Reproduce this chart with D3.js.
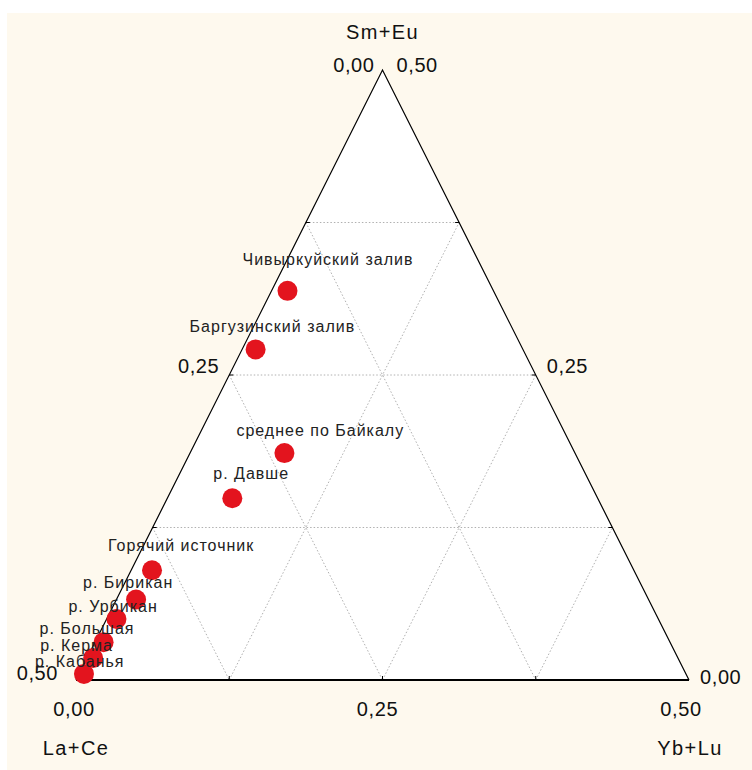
<!DOCTYPE html>
<html>
<head>
<meta charset="utf-8">
<script src="https://cdn.jsdelivr.net/npm/d3@7"></script>
<style>
html,body{margin:0;padding:0;background:#fff;}
svg{display:block;}
text{font-family:Arial,"Liberation Sans",sans-serif;}
</style>
</head>
<body>
<svg id="chart" width="752" height="770"></svg>
<script>
// ---- data ----
const axisTitles = ["La+Ce", "Sm+Eu", "Yb+Lu"];
const sampleNames = ["Чивыркуйский залив","Баргузинский залив","среднее по Байкалу","р. Давше","Горячий источник","р. Бирикан","р. Урбикан","р. Большая","р. Керма","р. Кабанья"];
const laCe = [0.168, 0.218, 0.237, 0.298, 0.393, 0.418, 0.442, 0.462, 0.477, 0.491];
const smEu = [0.319, 0.271, 0.186, 0.149, 0.090, 0.066, 0.050, 0.031, 0.018, 0.005];
const ybLu = [0.013, 0.011, 0.077, 0.053, 0.017, 0.016, 0.008, 0.007, 0.005, 0.004];
const tickValues = [0, 0.25, 0.5];
const tickLabels = ["0,00", "0,25", "0,50"];
const gridValues = [0.125, 0.25, 0.375];
// label placement (left edge / baseline offsets from the marker)
const labelDx = [-45, -66, -48, -19, -44, -53, -48, -64, -53, -49];
const labelDy = [-26, -17, -17, -19, -19, -11, -7, -8, -7, -7];

const total = 0.5;
const svg = d3.select("#chart");
svg.append("rect").attr("x",7).attr("y",13).attr("width",745).attr("height",757).attr("fill","#fef9ee");

const xScale = d3.scaleLinear().domain([0, total]).range([76, 689]);
const yScale = d3.scaleLinear().domain([0, total]).range([680, 70]);
// a = La+Ce (bottom-left), b = Sm+Eu (top), c = Yb+Lu (bottom-right)
function proj(a, b, c){ return [xScale(c + b/2), yScale(b)]; }

const L = proj(total,0,0), T = proj(0,total,0), R = proj(0,0,total);
svg.append("path").attr("d", `M${L}L${T}L${R}Z`).attr("fill","#fff");

// grid
const gridG = svg.append("g").attr("stroke","#b0b0b0").attr("stroke-width",1).attr("stroke-dasharray","1.5,2").attr("fill","none");
gridValues.forEach(v=>{
  gridG.append("line").datum([proj(total-v,v,0), proj(0,v,total-v)]);
  gridG.append("line").datum([proj(total-v,0,v), proj(0,total-v,v)]);
  gridG.append("line").datum([proj(v,total-v,0), proj(v,0,total-v)]);
});
gridG.selectAll("line").attr("x1",d=>d[0][0]).attr("y1",d=>d[0][1]).attr("x2",d=>d[1][0]).attr("y2",d=>d[1][1]);

// ticks
const tickG = svg.append("g").attr("stroke","#000").attr("stroke-width",1);
gridValues.forEach(v=>{
  const pb = proj(total-v,0,v); tickG.append("line").attr("x1",pb[0]).attr("y1",pb[1]).attr("x2",pb[0]).attr("y2",pb[1]-4);
  const pr = proj(0,v,total-v); tickG.append("line").attr("x1",pr[0]).attr("y1",pr[1]).attr("x2",pr[0]-4).attr("y2",pr[1]);
  const pl = proj(total-v,v,0); tickG.append("line").attr("x1",pl[0]).attr("y1",pl[1]).attr("x2",pl[0]+4).attr("y2",pl[1]);
});

// edges
svg.append("path").attr("d",`M${L}L${T}L${R}`).attr("fill","none").attr("stroke","#000").attr("stroke-width",1.2);
svg.append("line").attr("x1",L[0]).attr("y1",L[1]).attr("x2",R[0]).attr("y2",R[1]).attr("stroke","#000").attr("stroke-width",2.2);

// tick labels
const tl = svg.append("g").attr("font-size",20).attr("letter-spacing","0.6px").attr("fill","#111");
const bottomDx = [-2, -5, -8];
tickValues.forEach((v,i)=>{
  const pb = proj(total-v,0,v);
  tl.append("text").attr("x",pb[0]+bottomDx[i]).attr("y",pb[1]+36).attr("text-anchor","middle").text(tickLabels[i]);
  const pr = proj(0,v,total-v);
  tl.append("text").attr("x",pr[0]+ (i===2?14:11)).attr("y",pr[1]+(i===2?2:i===0?4:-2)).attr("text-anchor","start").text(tickLabels[i]);
  const pl = proj(v,total-v,0);
  tl.append("text").attr("x",pl[0]-(i===0?8:i===2?18:10)).attr("y",pl[1]+(i===0?2:i===2?0:-2)).attr("text-anchor","end").text(tickLabels[i]);
});

// axis titles
const at = svg.append("g").attr("font-size",20).attr("letter-spacing","1.4px").attr("fill","#111").attr("text-anchor","middle");
at.append("text").attr("x",T[0]).attr("y",T[1]-31).text(axisTitles[1]);
at.append("text").attr("x",L[0]).attr("y",L[1]+75).text(axisTitles[0]);
at.append("text").attr("x",R[0]+1).attr("y",R[1]+75).text(axisTitles[2]);

// points
const pts = sampleNames.map((n,i)=>({name:n, p:proj(laCe[i], smEu[i], ybLu[i]), dx:labelDx[i], dy:labelDy[i]}));
svg.append("g").selectAll("circle").data(pts).join("circle")
  .attr("cx",d=>d.p[0]).attr("cy",d=>d.p[1]).attr("r",10).attr("fill","#e3141e");
svg.append("g").attr("font-size",16).attr("letter-spacing","1px").attr("fill","#222").selectAll("text").data(pts).join("text")
  .attr("x",d=>d.p[0]+d.dx).attr("y",d=>d.p[1]+d.dy).text(d=>d.name);
</script>
</body>
</html>
